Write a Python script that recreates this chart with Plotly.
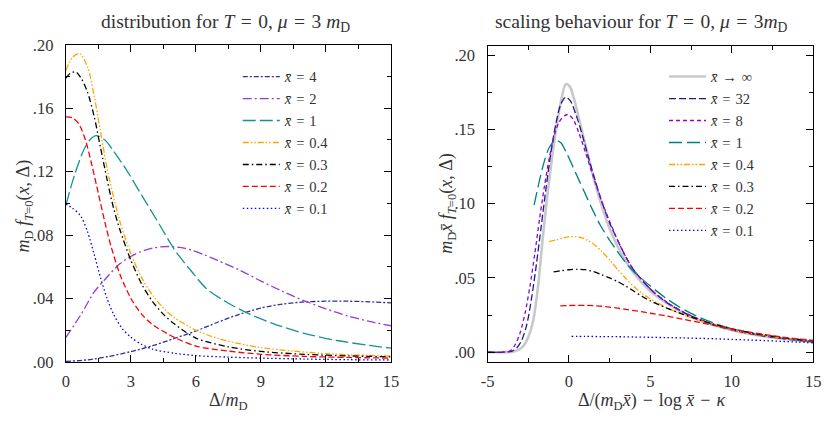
import plotly.graph_objects as go

FONT = "Liberation Serif"
TXT = "#333333"
W, H = 835, 423

# ---------------- left panel data: Delta/m_D vs m_D f ----------------
d_x01 = [0, 0.3, 0.68, 1.0, 1.3, 1.6, 1.9, 2.2, 2.6, 3.0, 3.5, 4.0, 5.0, 6.0, 7.5, 9, 11, 13, 15]
f_x01 = [0.0995, 0.097, 0.092, 0.082, 0.068, 0.053, 0.040, 0.030, 0.021, 0.0155, 0.011, 0.008, 0.0055, 0.0040, 0.0030, 0.0024, 0.0018, 0.0014, 0.0012]

d_x02 = [0, 0.3, 0.6, 0.9, 1.2, 1.5, 1.8, 2.1, 2.5, 3.0, 3.5, 4.0, 5.0, 6.0, 7.5, 9, 11, 13, 15]
f_x02 = [0.1545, 0.154, 0.150, 0.140, 0.124, 0.106, 0.088, 0.072, 0.055, 0.040, 0.030, 0.0235, 0.0155, 0.0100, 0.0068, 0.0048, 0.0035, 0.0028, 0.0024]

d_x03 = [0, 0.2, 0.45, 0.7, 1.0, 1.3, 1.6, 1.9, 2.2, 2.5, 3.0, 3.5, 4.0, 4.5, 5.0, 6.0, 7.5, 9, 11, 13, 15]
f_x03 = [0.179, 0.182, 0.183, 0.179, 0.170, 0.155, 0.135, 0.115, 0.097, 0.083, 0.064, 0.049, 0.038, 0.030, 0.024, 0.015, 0.0095, 0.0066, 0.0048, 0.0038, 0.0032]

d_x04 = [0, 0.3, 0.63, 1.0, 1.3, 1.6, 1.9, 2.2, 2.5, 3.0, 3.5, 4.0, 4.5, 5.0, 6.0, 7.0, 8.0, 9.0, 10.5, 12, 13.5, 15]
f_x04 = [0.184, 0.192, 0.1945, 0.186, 0.168, 0.145, 0.122, 0.104, 0.088, 0.068, 0.053, 0.042, 0.034, 0.028, 0.020, 0.0148, 0.0115, 0.0090, 0.0068, 0.0052, 0.0043, 0.0037]

d_x1 = [0, 0.4, 0.8, 1.1, 1.4, 1.8, 2.2, 2.8, 3.5, 4.3, 5.0, 5.8, 6.5, 7.5, 8.5, 9.5, 11, 12.5, 14, 15]
f_x1 = [0.099, 0.118, 0.133, 0.140, 0.1427, 0.140, 0.133, 0.121, 0.105, 0.087, 0.071, 0.057, 0.046, 0.037, 0.030, 0.0245, 0.0180, 0.0135, 0.0104, 0.0087]

d_x2 = [0, 0.7, 1.3, 1.8, 2.5, 3.2, 4.0, 4.7, 5.5, 6.3, 7.0, 8.0, 9.0, 10.0, 11.0, 12.0, 13.0, 14.0, 15.0]
f_x2 = [0.0155, 0.030, 0.044, 0.052, 0.062, 0.068, 0.0718, 0.0728, 0.0716, 0.068, 0.064, 0.058, 0.051, 0.0445, 0.0385, 0.0335, 0.029, 0.0255, 0.0228]

d_x4 = [0, 1, 2, 3, 4, 5, 6, 7, 8, 9, 10, 11, 12, 13, 14, 15]
f_x4 = [0.0003, 0.0013, 0.0035, 0.0065, 0.0102, 0.0148, 0.0195, 0.0250, 0.0300, 0.0340, 0.0365, 0.0378, 0.0383, 0.0383, 0.0379, 0.0372]

# ---------------- right panel data: scaled variable vs m_D xbar f ----------------
u_inf = [-5, -4, -3.5, -3.1, -2.8, -2.5, -2.2, -1.9, -1.6, -1.3, -1.0, -0.7, -0.45, -0.2, 0.05, 0.3, 0.6, 1.0, 1.5, 2.0, 2.5, 3.0, 3.5, 4.0, 5.0, 6.0, 7.0, 8.0, 9.0, 10.0, 11.0, 12.0, 13.0, 14.0, 15.0]
g_inf = [0, 0, 0.0002, 0.0015, 0.004, 0.010, 0.021, 0.044, 0.078, 0.108, 0.134, 0.156, 0.171, 0.1805, 0.179, 0.171, 0.158, 0.140, 0.118, 0.099, 0.083, 0.071, 0.061, 0.053, 0.041, 0.033, 0.0265, 0.0215, 0.0177, 0.0148, 0.0125, 0.0107, 0.0092, 0.0080, 0.0069]

u_32 = [-5, -4, -3.5, -3.2, -2.9, -2.6, -2.3, -2.0, -1.7, -1.4, -1.1, -0.8, -0.5, -0.2, 0.1, 0.4, 0.8, 1.2, 1.6, 2.0, 2.5, 3.0, 3.5, 4.0, 5.0, 6.0, 7.0, 8.0, 9.0, 10.0, 11.0, 12.0, 13.0, 14.0, 15.0]
g_32 = [0, 0, 0.0007, 0.003, 0.008, 0.018, 0.036, 0.059, 0.085, 0.111, 0.135, 0.154, 0.167, 0.1717, 0.169, 0.161, 0.147, 0.131, 0.116, 0.102, 0.087, 0.075, 0.064, 0.055, 0.0425, 0.0335, 0.027, 0.022, 0.018, 0.015, 0.0127, 0.0108, 0.0093, 0.0080, 0.0069]

u_8 = [-5, -4, -3.6, -3.3, -3.0, -2.7, -2.4, -2.1, -1.8, -1.5, -1.2, -0.9, -0.6, -0.3, -0.05, 0.25, 0.6, 1.0, 1.5, 2.0, 2.5, 3.0, 3.5, 4.0, 5.0, 6.0, 7.0, 8.0, 9.0, 10.0, 11.0, 12.0, 13.0, 14.0, 15.0]
g_8 = [0, 0, 0.001, 0.005, 0.013, 0.026, 0.044, 0.066, 0.090, 0.112, 0.131, 0.146, 0.155, 0.159, 0.160, 0.157, 0.148, 0.135, 0.118, 0.102, 0.088, 0.075, 0.064, 0.055, 0.0425, 0.0337, 0.0272, 0.0222, 0.0182, 0.0152, 0.0128, 0.0109, 0.0094, 0.0081, 0.0070]

u_1 = [-2.14, -1.8, -1.5, -1.2, -0.84, -0.5, -0.1, 0.4, 0.9, 1.4, 1.9, 2.4, 2.9, 3.5, 4.0, 5.0, 6.0, 7.0, 8.0, 9.0, 10.0, 11.0, 12.0, 13.0, 14.0, 15.0]
g_1 = [0.099, 0.116, 0.129, 0.138, 0.1427, 0.141, 0.133, 0.121, 0.109, 0.097, 0.086, 0.077, 0.069, 0.060, 0.054, 0.0445, 0.036, 0.029, 0.0235, 0.0192, 0.0158, 0.0132, 0.0112, 0.0096, 0.0083, 0.0072]

u_04 = [-1.22, -0.8, -0.4, 0.0, 0.4, 0.8, 1.2, 1.6, 2.0, 2.5, 3.0, 3.5, 4.0, 4.5, 5.0, 6.0, 7.0, 8.0, 9.0, 10.0, 11.0, 12.0, 13.0, 14.0, 15.0]
g_04 = [0.0745, 0.0755, 0.0768, 0.0776, 0.0778, 0.0770, 0.0750, 0.0720, 0.0680, 0.0620, 0.0555, 0.0495, 0.0440, 0.0395, 0.0358, 0.0300, 0.0252, 0.0213, 0.0180, 0.0152, 0.0130, 0.0112, 0.0097, 0.0085, 0.0074]

u_03 = [-0.94, -0.5, 0.0, 0.5, 1.0, 1.5, 2.0, 2.5, 3.0, 3.5, 4.0, 4.5, 5.0, 5.5, 6.0, 7.0, 8.0, 9.0, 10.0, 11.0, 12.0, 13.0, 14.0, 15.0]
g_03 = [0.054, 0.0548, 0.0555, 0.0558, 0.0555, 0.0543, 0.0522, 0.0500, 0.0475, 0.0445, 0.0410, 0.0375, 0.0345, 0.0320, 0.0297, 0.0255, 0.0218, 0.0185, 0.0157, 0.0134, 0.0115, 0.0100, 0.0087, 0.0076]

u_02 = [-0.53, 0.0, 0.5, 1.0, 1.5, 2.0, 2.5, 3.0, 3.5, 4.0, 5.0, 6.0, 7.0, 8.0, 9.0, 10.0, 11.0, 12.0, 13.0, 14.0, 15.0]
g_02 = [0.0312, 0.0314, 0.0315, 0.0315, 0.0313, 0.0309, 0.0303, 0.0296, 0.0288, 0.0280, 0.0262, 0.0243, 0.0222, 0.0200, 0.0178, 0.0157, 0.0137, 0.0119, 0.0103, 0.0090, 0.0079]

u_01 = [0.16, 1, 2, 3, 4, 5, 6, 7, 8, 9, 10, 11, 12, 13, 14, 15]
g_01 = [0.0106, 0.0106, 0.0105, 0.0104, 0.0102, 0.0100, 0.0098, 0.0096, 0.0093, 0.0090, 0.0086, 0.0082, 0.0078, 0.0073, 0.0068, 0.0063]

left_ticks = [0, 0.04, 0.08, 0.12, 0.16, 0.20]
left_ticktext = [".00", ".04", ".08", ".12", ".16", ".20"]
right_ticks = [0, 0.05, 0.10, 0.15, 0.20]
right_ticktext = [".00", ".05", ".10", ".15", ".20"]

XB = "<i>x\u0304</i>"
EQ = "\u2004=\u2004"

fig = go.Figure()

left_series = [
    (d_x4, f_x4, XB + EQ + "4", "#2e2e96", "5px,2px,2px,2px"),
    (d_x2, f_x2, XB + EQ + "2", "#9b3ad6", "9px,3px,2px,3px"),
    (d_x1, f_x1, XB + EQ + "1", "#139494", "13px,4px"),
    (d_x04, f_x04, XB + EQ + "0.4", "#ffa500", "6px,2px,1.5px,2px,1.5px,2px"),
    (d_x03, f_x03, XB + EQ + "0.3", "#000000", "6px,3px,1.5px,3px"),
    (d_x02, f_x02, XB + EQ + "0.2", "#ff0000", "6px,3px"),
    (d_x01, f_x01, XB + EQ + "0.1", "#0000ff", "1.5px,2.5px"),
]
for xs, ys, name, col, dash in left_series:
    fig.add_trace(go.Scatter(x=xs, y=ys, mode="lines", name=name,
                             line=dict(color=col, width=1.3, dash=dash, shape="spline", smoothing=0.8),
                             xaxis="x", yaxis="y", legend="legend"))

right_series = [
    (u_inf, g_inf, XB + "\u2004\u2192\u2004\u221e", "#c8c8c8", "solid", 2.6),
    (u_32, g_32, XB + EQ + "32", "#1a1a8c", "7px,3px", 1.3),
    (u_8, g_8, XB + EQ + "8", "#9400d3", "4px,3px", 1.3),
    (u_1, g_1, XB + EQ + "1", "#007f7f", "13px,5px", 1.3),
    (u_04, g_04, XB + EQ + "0.4", "#ffa500", "6px,2px,1.5px,2px,1.5px,2px", 1.3),
    (u_03, g_03, XB + EQ + "0.3", "#000000", "6px,3px,1.5px,3px", 1.3),
    (u_02, g_02, XB + EQ + "0.2", "#ff0000", "6px,3px", 1.3),
    (u_01, g_01, XB + EQ + "0.1", "#0000ff", "1.5px,2.5px", 1.3),
]
for xs, ys, name, col, dash, w in right_series:
    fig.add_trace(go.Scatter(x=xs, y=ys, mode="lines", name=name,
                             line=dict(color=col, width=w, dash=dash, shape="spline", smoothing=0.8),
                             xaxis="x2", yaxis="y2", legend="legend2"))


def ax(**kw):
    base = dict(showgrid=False, zeroline=False, showline=True, linecolor="black", linewidth=1.3,
                mirror="allticks", ticks="inside", ticklen=7, tickwidth=1, tickcolor="black",
                ticklabelstandoff=4,
                tickfont=dict(family=FONT, size=16.5, color=TXT))
    base.update(kw)
    return base


def px2x(p):
    return p / W


def px2y(p):
    return 1 - p / H


fig.update_layout(
    width=W, height=H, margin=dict(l=0, r=0, t=0, b=0),
    paper_bgcolor="white", plot_bgcolor="white",
    font=dict(family=FONT, color=TXT),
    xaxis=ax(domain=[px2x(60), px2x(391)], range=[0, 15], anchor="y",
             tickvals=[0, 3, 6, 9, 12, 15], ticktext=["0", "3", "6", "9", "12", "15"],
             minor=dict(tickvals=[1.5, 4.5, 7.5, 10.5, 13.5], ticklen=4, ticks="inside", tickcolor="black")),
    yaxis=ax(domain=[px2y(369.5), px2y(37.5)], range=[0, 0.2], anchor="x",
             tickvals=left_ticks, ticktext=left_ticktext, ticklabelstandoff=8,
             minor=dict(tickvals=[0.02, 0.06, 0.10, 0.14, 0.18], ticklen=4, ticks="inside", tickcolor="black")),
    xaxis2=ax(domain=[px2x(489.3), px2x(821)], range=[-5, 15], anchor="y2",
              tickvals=[-5, 0, 5, 10, 15], ticktext=["-5", "0", "5", "10", "15"],
              minor=dict(tickvals=[-2.5, 2.5, 7.5, 12.5], ticklen=4, ticks="inside", tickcolor="black")),
    yaxis2=ax(domain=[px2y(369.3), px2y(38.5)], range=[-0.00643, 0.2063], anchor="x2",
              tickvals=right_ticks, ticktext=right_ticktext, ticklabelstandoff=8,
              minor=dict(tickvals=[0.025, 0.075, 0.125, 0.175], ticklen=4, ticks="inside", tickcolor="black")),
    legend=dict(x=px2x(235), y=px2y(54), xanchor="left", yanchor="top", bgcolor="rgba(0,0,0,0)",
                font=dict(family=FONT, size=14.6, color=TXT), itemwidth=37, tracegroupgap=0),
    legend2=dict(x=px2x(669), y=px2y(54), xanchor="left", yanchor="top", bgcolor="rgba(0,0,0,0)",
                 font=dict(family=FONT, size=14.6, color=TXT), itemwidth=37, tracegroupgap=0),
    showlegend=True,
)

ann = [
    ("distribution for <i>T</i>" + EQ + "0, <i>\u03bc</i>" + EQ + "3 <i>m</i><sub>D</sub>", 223, 15, 0, 19.5),
    ("scaling behaviour for <i>T</i>" + EQ + "0, <i>\u03bc</i>" + EQ + "3<i>m</i><sub>D</sub>", 646, 15, 0, 19.5),
    ("\u0394/<i>m</i><sub>D</sub>", 226, 411, 0, 18),
    ("\u0394/(<i>m</i><sub>D</sub>" + XB + ")\u2004\u2212\u2004log " + XB + "\u2004\u2212\u2004<i>\u03ba</i>", 657, 411, 0, 18),
    ("<i>m</i><sub>D</sub> <i>f</i><sub><i>T</i>=0</sub>(<i>x</i>, \u0394)", 18, 206, -90, 18),
    ("<i>m</i><sub>D</sub>" + XB + " <i>f</i><sub><i>T</i>=0</sub>(<i>x</i>, \u0394)", 449, 203, -90, 18),
]
for text, x, y, ang, size in ann:
    fig.add_annotation(text=text, x=px2x(x), y=px2y(y), xref="paper", yref="paper",
                       showarrow=False, textangle=ang, xanchor="center", yanchor="middle",
                       font=dict(family=FONT, size=size, color=TXT))

fig.write_html("out.html")
